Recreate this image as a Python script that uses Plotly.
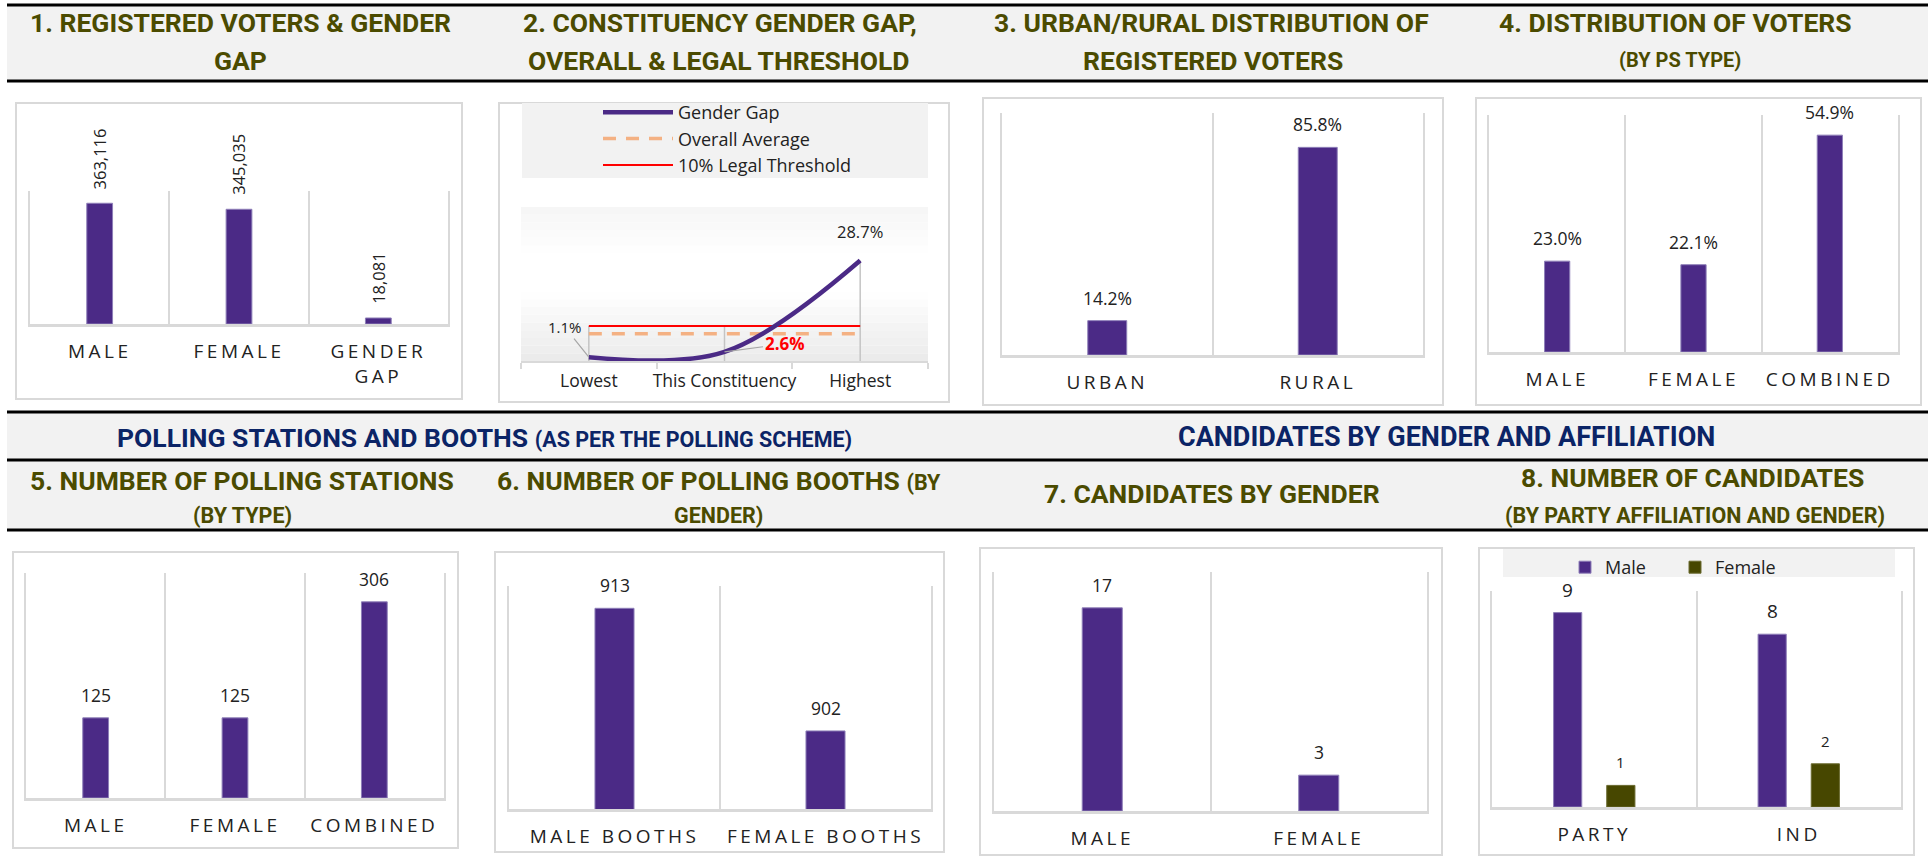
import plotly.graph_objects as go

W, H = 1928, 859


def px(x):
    return x / W


def py(y):
    return 1 - y / H


PURPLE = '#4b2a86'
OLIVE_BAR = '#474700'
OLIVE = '#4b4b00'
NAVY = '#0b2466'
GRID = '#d9d9d9'
TXT = '#222222'
TITLE_FONT = 'Roboto, Liberation Sans, sans-serif'
BODY_FONT = 'Open Sans, Noto Sans, sans-serif'

# ---------------- data ----------------
voters_cats = ['MALE', 'FEMALE', 'GENDER<br>GAP']
voters_vals = [363116, 345035, 18081]

gap_cats = ['Lowest', 'This Constituency', 'Highest']
gap_vals = [1.1, 2.6, 28.7]
overall_avg = [7.8, 7.8, 7.8]
legal_threshold = [10, 10, 10]

ur_cats = ['URBAN', 'RURAL']
ur_vals = [14.2, 85.8]

pstype_cats = ['MALE', 'FEMALE', 'COMBINED']
pstype_vals = [23.0, 22.1, 54.9]

stations_cats = ['MALE', 'FEMALE', 'COMBINED']
stations_vals = [125, 125, 306]

booth_cats = ['MALE BOOTHS', 'FEMALE BOOTHS']
booth_vals = [913, 902]

cand_cats = ['MALE', 'FEMALE']
cand_vals = [17, 3]

aff_cats = ['PARTY', 'IND']
aff_male = [9, 8]
aff_female = [1, 2]

# ---------------- layout geometry (pixels) ----------------
panels = {
    1: (30, 448, 191, 324, [0, 400000]),
    2: (521, 928, 207, 361, [0, 44]),
    3: (1002, 1423, 113, 355, [0, 100]),
    4: (1489, 1898, 115, 352, [0, 60]),
    5: (26, 444, 573, 798, [0, 351]),
    6: (509, 931, 586, 809, [895, 915]),
    7: (994, 1427, 572, 811, [0, 20]),
    8: (1492, 1901, 591, 807, [0, 10]),
}
boxes = [
    (16, 103, 462, 399), (499, 103, 949, 402), (983, 98, 1443, 405), (1476, 98, 1921, 405),
    (13, 552, 458, 848), (495, 552, 944, 852), (980, 548, 1442, 855), (1479, 548, 1914, 855),
]


def axn(i):
    return '' if i == 1 else str(i)


fig = go.Figure()
annotations = []
shapes = []


def bar_panel(i, cats, vals, fmt, size=17.5, angle=0, shift=23):
    fig.add_trace(go.Bar(
        x=cats, y=vals, width=0.185, marker=dict(color=PURPLE, line=dict(color='#8e7fb8', width=1)),
        xaxis='x' + axn(i), yaxis='y' + axn(i), showlegend=False, hoverinfo='skip'))
    for c, v in zip(cats, vals):
        if angle:
            annotations.append(dict(x=c, y=v, xref='x' + axn(i), yref='y' + axn(i), text=fmt.format(v),
                                    showarrow=False, textangle=angle, yanchor='bottom', yshift=12,
                                    font=dict(family=BODY_FONT, size=size, color=TXT)))
        else:
            annotations.append(dict(x=c, y=v, xref='x' + axn(i), yref='y' + axn(i), text=fmt.format(v),
                                    showarrow=False, yanchor='middle', yshift=shift,
                                    font=dict(family=BODY_FONT, size=size, color=TXT)))


bar_panel(1, voters_cats, voters_vals, '{:,}', size=16.5, angle=-90)
bar_panel(3, ur_cats, ur_vals, '{:.1f}%')
bar_panel(4, pstype_cats, pstype_vals, '{:.1f}%')
bar_panel(5, stations_cats, stations_vals, '{}')
bar_panel(6, booth_cats, booth_vals, '{}')
bar_panel(7, cand_cats, cand_vals, '{}')

# panel 8 grouped bars
fig.add_trace(go.Bar(x=aff_cats, y=aff_male, name='Male', marker=dict(color=PURPLE, line=dict(color='#8e7fb8', width=1)),
                     xaxis='x8', yaxis='y8', legend='legend2', hoverinfo='skip'))
fig.add_trace(go.Bar(x=aff_cats, y=aff_female, name='Female', marker=dict(color=OLIVE_BAR, line=dict(color='#6b6b30', width=1)),
                     xaxis='x8', yaxis='y8', legend='legend2', hoverinfo='skip'))
for c, v in zip(aff_cats, aff_male):
    annotations.append(dict(x=c, y=v, xref='x8', yref='y8', text=str(v), showarrow=False, xshift=-26.5,
                            yanchor='middle', yshift=23, font=dict(family=BODY_FONT, size=19, color=TXT)))
for c, v in zip(aff_cats, aff_female):
    annotations.append(dict(x=c, y=v, xref='x8', yref='y8', text=str(v), showarrow=False, xshift=26.5,
                            yanchor='middle', yshift=23, font=dict(family=BODY_FONT, size=15, color=TXT)))

# panel 2 lines
drop_x, drop_y = [], []
for c, g, a, t in zip(gap_cats, gap_vals, overall_avg, legal_threshold):
    drop_x += [c, c, None]
    drop_y += [0, max(g, a, t), None]
fig.add_trace(go.Scatter(x=drop_x, y=drop_y, mode='lines', line=dict(color='#c4c4c4', width=1.5),
                         xaxis='x2', yaxis='y2', showlegend=False, hoverinfo='skip'))
fig.add_trace(go.Scatter(x=gap_cats, y=overall_avg, name='Overall Average', mode='lines',
                         line=dict(color='#f4b183', width=3.5, dash='13px,10px'), legendrank=2,
                         xaxis='x2', yaxis='y2', hoverinfo='skip'))
fig.add_trace(go.Scatter(x=gap_cats, y=legal_threshold, name='10% Legal Threshold', mode='lines',
                         line=dict(color='#ff0000', width=2), legendrank=3,
                         xaxis='x2', yaxis='y2', hoverinfo='skip'))
fig.add_trace(go.Scatter(x=gap_cats, y=gap_vals, name='Gender Gap', mode='lines',
                         line=dict(color=PURPLE, width=4.5, shape='spline', smoothing=1), legendrank=1,
                         xaxis='x2', yaxis='y2', hoverinfo='skip'))
annotations.append(dict(x=gap_cats[0], y=gap_vals[0], xref='x2', yref='y2', text='{:.1f}%'.format(gap_vals[0]),
                        showarrow=True, arrowhead=0, arrowwidth=1.2, arrowcolor='#a6a6a6', ax=-24, ay=-30,
                        font=dict(family=BODY_FONT, size=15, color=TXT)))
annotations.append(dict(x=gap_cats[1], y=gap_vals[1], xref='x2', yref='y2', text='<b>{:.1f}%</b>'.format(gap_vals[1]),
                        showarrow=True, arrowhead=0, arrowwidth=1.2, arrowcolor='#a6a6a6', ax=60, ay=-8,
                        font=dict(family=BODY_FONT, size=17, color='#ff0000')))
annotations.append(dict(x=gap_cats[2], y=gap_vals[2], xref='x2', yref='y2', text='{:.1f}%'.format(gap_vals[2]),
                        showarrow=False, yanchor='middle', yshift=29,
                        font=dict(family=BODY_FONT, size=16.5, color=TXT)))

# gradient background of panel 2 plot area
N = 20
for k in range(N):
    t = (k + 0.5) / N  # 0 = bottom, 1 = top
    if t < 0.45:
        v = 234 + (255 - 234) * (t / 0.45)
    elif t < 0.7:
        v = 255
    else:
        v = 255 - (255 - 245) * ((t - 0.7) / 0.3)
    c = int(round(v))
    shapes.append(dict(type='rect', xref='x2 domain', yref='y2 domain', x0=0, x1=1, y0=k / N, y1=(k + 1) / N,
                       fillcolor='rgb({0},{0},{0})'.format(c), line=dict(width=0), layer='below'))

# header bands
for (y0, y1) in [(5, 81), (412, 530)]:
    shapes.append(dict(type='rect', xref='paper', yref='paper', x0=px(7), x1=1, y0=py(y1), y1=py(y0),
                       fillcolor='#f2f2f2', line=dict(width=0), layer='below'))
for yl in [5, 81, 412, 460, 530]:
    shapes.append(dict(type='line', xref='paper', yref='paper', x0=px(7), x1=1, y0=py(yl), y1=py(yl),
                       line=dict(color='#000000', width=3), layer='above'))
# panel boxes
for (x0, y0, x1, y1) in boxes:
    shapes.append(dict(type='rect', xref='paper', yref='paper', x0=px(x0), x1=px(x1), y0=py(y1), y1=py(y0),
                       line=dict(color=GRID, width=2), fillcolor='rgba(0,0,0,0)', layer='below'))
# legend bands
shapes.append(dict(type='rect', xref='paper', yref='paper', x0=px(522), x1=px(928), y0=py(178), y1=py(103),
                   fillcolor='#f2f2f2', line=dict(width=0), layer='below'))
shapes.append(dict(type='rect', xref='paper', yref='paper', x0=px(1503), x1=px(1895), y0=py(577), y1=py(549),
                   fillcolor='#f2f2f2', line=dict(width=0), layer='below'))

# titles (text, x centre px, y centre px, size, colour)
TS = 26.5
PS = 21.5
titles = [
    ("1. REGISTERED VOTERS & GENDER", 240, 23, TS, OLIVE),
    ("GAP", 240, 60, TS, OLIVE),
    ("2. CONSTITUENCY GENDER GAP,", 720, 23, TS, OLIVE),
    ("OVERALL & LEGAL THRESHOLD", 718, 60, TS, OLIVE),
    ("3. URBAN/RURAL DISTRIBUTION OF", 1211, 23, TS, OLIVE),
    ("REGISTERED VOTERS", 1213, 60, TS, OLIVE),
    ("4. DISTRIBUTION OF VOTERS", 1675, 23, TS, OLIVE),
    ("(BY PS TYPE)", 1680, 60, 20, OLIVE),
    ("POLLING STATIONS AND BOOTHS <span style='font-size:21.5px'>(AS PER THE POLLING SCHEME)</span>", 484, 437, TS, NAVY),
    ("CANDIDATES BY GENDER AND AFFILIATION", 1446, 437, 27, NAVY),
    ("5. NUMBER OF POLLING STATIONS", 242, 480, TS, OLIVE),
    ("(BY TYPE)", 242, 515, PS, OLIVE),
    ("6. NUMBER OF POLLING BOOTHS <span style='font-size:21.5px'>(BY</span>", 719, 480, TS, OLIVE),
    ("GENDER)", 718, 515, PS, OLIVE),
    ("7. CANDIDATES BY GENDER", 1212, 493, TS, OLIVE),
    ("8. NUMBER OF CANDIDATES", 1692, 478, TS, OLIVE),
    ("(BY PARTY AFFILIATION AND GENDER)", 1695, 515, PS, OLIVE),
]
for text, x, y, size, color in titles:
    annotations.append(dict(text=text, x=px(x), y=py(y), xref='paper', yref='paper', showarrow=False,
                            xanchor='center', yanchor='middle',
                            font=dict(family=TITLE_FONT, size=size, color=color, weight=700)))

layout = dict(
    width=W, height=H, margin=dict(l=0, r=0, t=0, b=0),
    paper_bgcolor='white', plot_bgcolor='rgba(0,0,0,0)',
    barmode='group', bargap=0.48, bargroupgap=0.47,
    shapes=shapes, annotations=annotations, showlegend=True,
    legend=dict(x=px(598), y=py(94), xanchor='left', yanchor='top', bgcolor='rgba(0,0,0,0)',
                font=dict(family=BODY_FONT, size=18, color=TXT), tracegroupgap=0, traceorder='normal',
                itemwidth=70),
    legend2=dict(orientation='h', x=px(1565), y=py(549), xanchor='left', yanchor='top',
                 bgcolor='rgba(0,0,0,0)', font=dict(family=BODY_FONT, size=18, color=TXT),
                 entrywidth=65, entrywidthmode='pixels'),
)
for i, (x0, x1, top, bot, yr) in panels.items():
    xa = dict(domain=[px(x0), px(x1)], anchor='y' + axn(i), type='category',
              showline=True, linecolor=GRID, linewidth=3,
              tickson='boundaries', showgrid=(i != 2), gridcolor=GRID, gridwidth=2,
              ticks='', ticklabelstandoff=8, tickangle=0,
              tickfont=dict(family=BODY_FONT, size=19, color=TXT), fixedrange=True)
    ya = dict(domain=[py(bot), py(top)], anchor='x' + axn(i), range=yr, showticklabels=False,
              showgrid=False, zeroline=False, showline=(i != 2), mirror=True, linecolor=GRID, linewidth=2,
              ticks='', fixedrange=True)
    if i == 2:
        xa.update(range=[-0.5, len(gap_cats) - 0.5], ticks='outside', ticklen=6, tickwidth=2, tickcolor=GRID,
                  linewidth=2, tickfont=dict(family=BODY_FONT, size=17.5, color=TXT), ticklabelstandoff=3)
    layout['xaxis' + axn(i)] = xa
    layout['yaxis' + axn(i)] = ya

fig.update_layout(**layout)

post = """
document.body.style.margin = '0px';
document.body.style.overflow = 'hidden';
var s = document.createElement('style');
s.innerHTML = '.xaxislayer-above text{letter-spacing:3.5px;} .subplot.x2y2 .xaxislayer-above text{letter-spacing:0px;}';
document.head.appendChild(s);
"""
fig.write_html("out.html", post_script=post, config={'displayModeBar': False})
